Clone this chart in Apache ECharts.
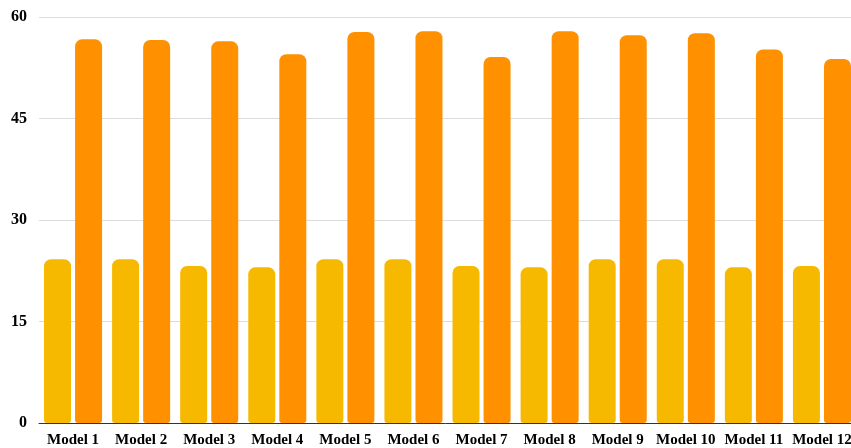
<!DOCTYPE html>
<html>
<head>
<meta charset="utf-8">
<script src="https://cdn.jsdelivr.net/npm/echarts@6/dist/echarts.min.js"></script>
<style>
  html, body { margin: 0; padding: 0; background: #fff; }
  #chart { width: 851px; height: 448px; }
</style>
</head>
<body>
<div id="chart"></div>
<script>
const categories = ['Model 1', 'Model 2', 'Model 3', 'Model 4', 'Model 5', 'Model 6', 'Model 7', 'Model 8', 'Model 9', 'Model 10', 'Model 11', 'Model 12']
const yellowValues = [24.2, 24.2, 23.2, 23.0, 24.2, 24.2, 23.2, 23.0, 24.2, 24.2, 23.0, 23.2]
const orangeValues = [56.7, 56.6, 56.4, 54.5, 57.8, 57.9, 54.1, 57.9, 57.3, 57.6, 55.2, 53.8]

const chart = echarts.init(document.getElementById('chart'))
const font = '"Liberation Serif", "DejaVu Serif", serif'
chart.setOption({
  animation: false,
  grid: { left: 39, right: -5, top: 17, bottom: 25, containLabel: false, outerBoundsMode: 'none' },
  xAxis: {
    type: 'category',
    data: categories,
    axisLine: { lineStyle: { color: '#333', width: 1 } },
    axisTick: { show: false },
    axisLabel: { color: '#000', fontFamily: font, fontWeight: 'bold', fontSize: 15, margin: 10, interval: 0, hideOverlap: false }
  },
  yAxis: {
    type: 'value',
    min: 0,
    max: 60,
    interval: 15,
    axisLine: { show: false },
    axisTick: { show: false },
    splitLine: { lineStyle: { color: '#dcdcdc' } },
    axisLabel: { color: '#000', fontFamily: font, fontWeight: 'bold', fontSize: 16, margin: 12 }
  },
  series: [
    {
      type: 'bar',
      data: yellowValues,
      barWidth: 27,
      barGap: '15%',
      itemStyle: { color: '#F7B900', borderRadius: [7, 7, 3, 3] }
    },
    {
      type: 'bar',
      data: orangeValues,
      barWidth: 27,
      itemStyle: { color: '#FF9100', borderRadius: [7, 7, 3, 3] }
    }
  ]
})
window.addEventListener('resize', () => chart.resize())
</script>
</body>
</html>
